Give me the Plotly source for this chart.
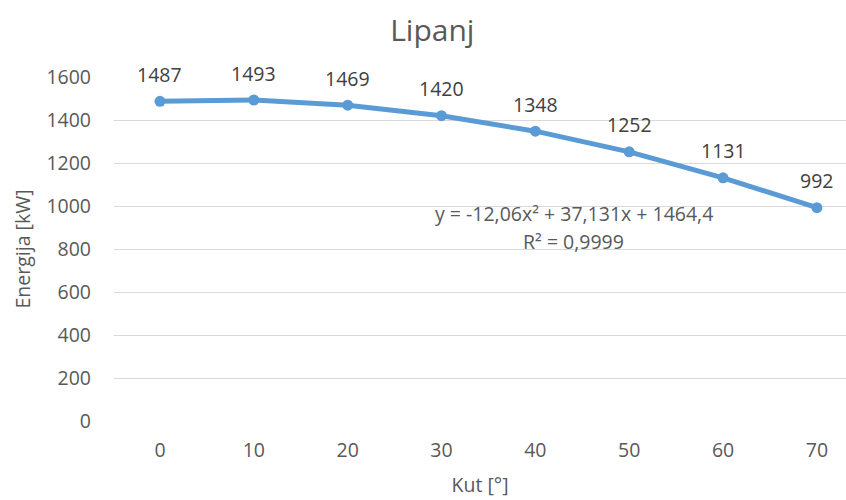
import plotly.graph_objects as go

# Kut (deg) and monthly energy for June
kut = [0, 10, 20, 30, 40, 50, 60, 70]
energija = [1487, 1493, 1469, 1420, 1348, 1252, 1131, 992]
y_ticks = [0, 200, 400, 600, 800, 1000, 1200, 1400, 1600]

trend_eq = "y = -12,06x² + 37,131x + 1464,4"
trend_r2 = "R² = 0,9999"

FONT = "Open Sans, Noto Sans, sans-serif"
GREY = "#595959"
BLUE = "#5B9BD5"
TXT = 19.5

fig = go.Figure()
fig.add_trace(go.Scatter(
    x=kut, y=energija,
    mode="lines+markers",
    line=dict(color=BLUE, width=5),
    marker=dict(color=BLUE, size=11),
    cliponaxis=False,
    hoverinfo="x+y",
))

# value labels above each point
for xv, yv in zip(kut, energija):
    fig.add_annotation(x=xv, y=yv, text=str(yv), showarrow=False,
                       yshift=27, font=dict(family=FONT, size=TXT, color="#404040"))

# polynomial trendline equation and R²
fig.add_annotation(x=44.1, y=963, text=trend_eq, showarrow=False,
                   font=dict(family=FONT, size=TXT, color=GREY))
fig.add_annotation(x=44.1, y=837, text=trend_r2, showarrow=False,
                   font=dict(family=FONT, size=TXT, color=GREY))

fig.update_layout(
    width=846, height=500,
    margin=dict(l=114, r=0, t=77, b=79),
    paper_bgcolor="white", plot_bgcolor="white",
    showlegend=False,
    title=dict(text="Lipanj", x=0.511, xanchor="center", y=0.94, yanchor="middle",
               font=dict(family=FONT, size=30, color=GREY)),
    font=dict(family=FONT, color=GREY),
)
fig.update_xaxes(
    range=[-4.9, 73.1], tickvals=kut, ticktext=[str(k) for k in kut],
    showgrid=False, zeroline=False, showline=False,
    tickfont=dict(family=FONT, size=TXT, color=GREY), ticklabelstandoff=15,
    title=dict(text="Kut [°]", font=dict(family=FONT, size=TXT, color=GREY), standoff=16),
)
fig.update_yaxes(
    range=[0, 1600], tickvals=y_ticks, ticktext=[str(v) for v in y_ticks],
    showgrid=True, gridcolor="#D9D9D9", gridwidth=1, zeroline=False, showline=False,
    tickfont=dict(family=FONT, size=TXT, color=GREY), ticklabelstandoff=22,
    title=dict(text="Energija [kW]", font=dict(family=FONT, size=TXT, color=GREY), standoff=10),
)

fig.write_html("out.html")
